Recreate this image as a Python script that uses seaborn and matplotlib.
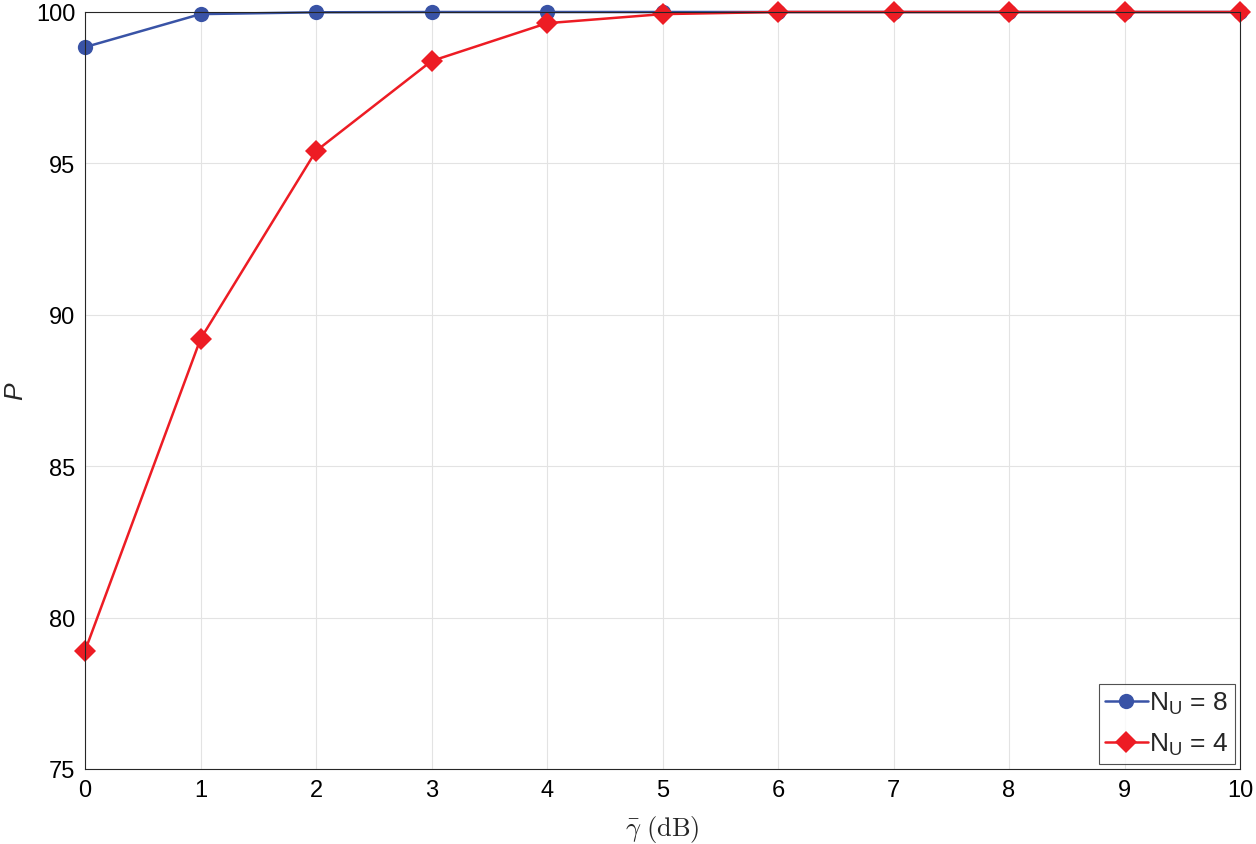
import numpy as np
import pandas as pd
import matplotlib
matplotlib.use("Agg")
import matplotlib.pyplot as plt
import seaborn as sns

snr_db = [0, 1, 2, 3, 4, 5, 6, 7, 8, 9, 10]
p_nu8 = [98.84, 99.93, 99.99, 100.0, 100.0, 100.0, 100.0, 100.0, 100.0, 100.0, 100.0]
p_nu4 = [78.9, 89.2, 95.41, 98.38, 99.63, 99.93, 100.0, 100.0, 100.0, 100.0, 100.0]
series_labels = ["N$_{\\mathrm{U}}$ = 8", "N$_{\\mathrm{U}}$ = 4"]

df = pd.DataFrame({
    "x": snr_db * 2,
    "P": p_nu8 + p_nu4,
    "series": [series_labels[0]] * len(snr_db) + [series_labels[1]] * len(snr_db),
})

sns.set_theme(style="white")
plt.rcParams["font.family"] = ["Liberation Sans", "DejaVu Sans"]
plt.rcParams["mathtext.fontset"] = "custom"
plt.rcParams["mathtext.rm"] = "Liberation Sans"
plt.rcParams["mathtext.it"] = "Liberation Sans:italic"

fig = plt.figure(figsize=(12.56, 8.45), dpi=100)
ax = fig.add_axes([85 / 1256, 1 - 770 / 845, (1240 - 85) / 1256, (770 - 13) / 845])

palette = {series_labels[0]: "#3953a6", series_labels[1]: "#ed1c24"}
markers = {series_labels[0]: "o", series_labels[1]: "D"}
sns.lineplot(data=df, x="x", y="P", hue="series", style="series",
             palette=palette, markers=markers, dashes=False,
             markersize=11, linewidth=1.8, markeredgewidth=0, ax=ax, clip_on=False)

ax.set_xlim(0, 10)
ax.set_ylim(75, 100)
ax.set_xticks(range(0, 11))
ax.set_yticks([75, 80, 85, 90, 95, 100])
ax.grid(True, color="#e3e3e3", linewidth=0.8)
ax.tick_params(direction="in", length=6, width=0.8, colors="#262626",
               labelsize=17, labelcolor="black", pad=7, top=False, right=False)
for s in ax.spines.values():
    s.set_color("#262626")
    s.set_linewidth(0.8)
    s.set_visible(True)

ax.set_xlabel(r"$\bar{\gamma}\ \mathrm{(dB)}$", fontsize=19, labelpad=9,
              math_fontfamily="cm")
ax.set_ylabel("P", fontsize=19, style="italic")
ax.yaxis.set_label_coords(-0.05, 0.5)

handles, labels = ax.get_legend_handles_labels()
leg = ax.legend(handles, labels, loc="lower right", fontsize=19,
                frameon=True, fancybox=False, edgecolor="#262626",
                borderpad=0.25, handlelength=1.6, handletextpad=0.05,
                labelspacing=0.55, borderaxespad=0.2)
leg.get_frame().set_linewidth(0.8)

fig.savefig("out.png", dpi=100)
